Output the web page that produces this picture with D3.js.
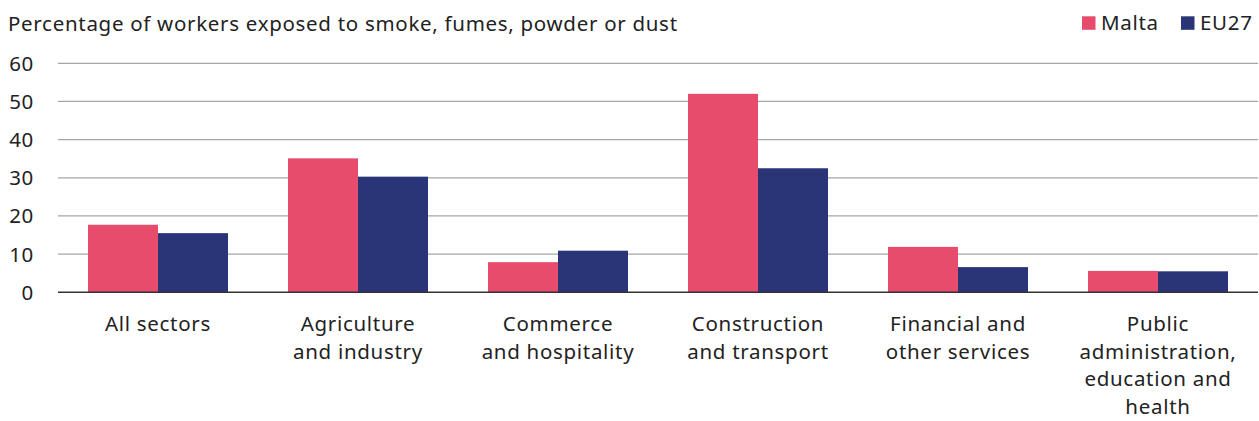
<!DOCTYPE html>
<html>
<head>
<meta charset="utf-8">
<script src="https://cdn.jsdelivr.net/npm/d3@7"></script>
<style>
  html, body { margin: 0; padding: 0; background: #fff; }
  svg { display: block; font-family: "Noto Sans", "Open Sans", sans-serif; }
  svg text { font-size: 20.5px; letter-spacing: 0.7px; fill: #222; }
</style>
</head>
<body>
<svg id="chart" width="1259" height="421"></svg>
<script>
// Share of workers exposed to smoke, fumes, powder or dust, by sector
const categories = [
  ["All sectors"],
  ["Agriculture", "and industry"],
  ["Commerce", "and hospitality"],
  ["Construction", "and transport"],
  ["Financial and", "other services"],
  ["Public", "administration,", "education and", "health"]
];
const seriesNames = ["Malta", "EU27"];
const maltaValues = [17.7, 35.1, 7.9, 52.0, 11.9, 5.6];
const eu27Values  = [15.5, 30.3, 10.9, 32.5, 6.6, 5.5];
const yTicks = [0, 10, 20, 30, 40, 50, 60];
const titleText = "Percentage of workers exposed to smoke, fumes, powder or dust";

const colors = { "Malta": "#e84c6c", "EU27": "#2a3578" };
const seriesValues = { "Malta": maltaValues, "EU27": eu27Values };

const svg = d3.select("#chart");
const plotLeft = 58, plotRight = 1258, plotTop = 63.3, plotBottom = 292.3;

const keys = categories.map((c, i) => i);
const x = d3.scaleBand().domain(keys).range([plotLeft, plotRight])
  .paddingInner(0.3).paddingOuter(0.15);
const xs = d3.scaleBand().domain(seriesNames).range([0, x.bandwidth()]);
const y = d3.scaleLinear().domain([0, 60]).range([plotBottom, plotTop]);

// Title
svg.append("text")
  .attr("x", 8).attr("y", 31)
  .text(titleText);

// Gridlines
svg.append("g").selectAll("line")
  .data(yTicks.filter(d => d > 0))
  .join("line")
  .attr("x1", plotLeft).attr("x2", plotRight)
  .attr("y1", d => y(d)).attr("y2", d => y(d))
  .attr("stroke", "#a6a6a6").attr("stroke-width", 1.3);

// Y tick labels
svg.append("g").selectAll("text")
  .data(yTicks)
  .join("text")
  .attr("x", 34).attr("y", d => y(d))
  .attr("dy", "0.36em")
  .attr("text-anchor", "end")
  .text(d => d);

// Bars
const groups = svg.append("g").selectAll("g")
  .data(keys)
  .join("g")
  .attr("transform", i => `translate(${x(i)},0)`);

groups.selectAll("rect")
  .data(i => seriesNames.map(s => ({ s, v: seriesValues[s][i] })))
  .join("rect")
  .attr("x", d => xs(d.s))
  .attr("width", xs.bandwidth())
  .attr("y", d => y(d.v))
  .attr("height", d => y(0) - y(d.v))
  .attr("fill", d => colors[d.s]);

// Baseline
svg.append("line")
  .attr("x1", plotLeft).attr("x2", plotRight)
  .attr("y1", y(0)).attr("y2", y(0))
  .attr("stroke", "#333").attr("stroke-width", 1.5);

// Category labels
const labels = svg.append("g").selectAll("text")
  .data(keys)
  .join("text")
  .attr("x", i => x(i) + x.bandwidth() / 2)
  .attr("y", 331)
  .attr("text-anchor", "middle");
labels.selectAll("tspan")
  .data(i => categories[i])
  .join("tspan")
  .attr("x", function () { return d3.select(this.parentNode).attr("x"); })
  .attr("dy", (d, j) => j === 0 ? 0 : 27.7)
  .text(d => d);

// Legend
const legendPos = { "Malta": 1082, "EU27": 1181 };
const legend = svg.append("g").selectAll("g")
  .data(seriesNames)
  .join("g")
  .attr("transform", s => `translate(${legendPos[s]},0)`);
legend.append("rect")
  .attr("x", 0).attr("y", 16.3).attr("width", 13.5).attr("height", 13.5)
  .attr("fill", s => colors[s]);
legend.append("text")
  .attr("x", 19).attr("y", 30)
  .text(s => s);
</script>
</body>
</html>
